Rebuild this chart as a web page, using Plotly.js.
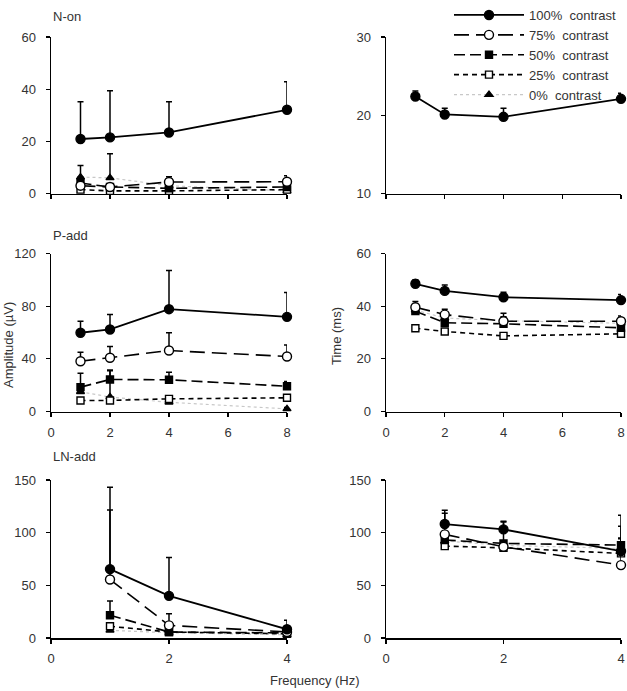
<!DOCTYPE html>
<html>
<head>
<meta charset="utf-8">
<script src="https://cdn.plot.ly/plotly-3.0.1.min.js"></script>
<style>html,body{margin:0;padding:0;background:#fff;}#chart{width:627px;height:691px;}</style>
</head>
<body>
<div id="chart"></div>
<script>
// ---------- DATA ----------
const freq8 = [1, 2, 4, 8];
const freq4 = [1, 2, 4];
const seriesNames = ['100%  contrast', '75%  contrast', '50%  contrast', '25%  contrast', '0%  contrast'];
const panelLabels = ['N-on', 'P-add', 'LN-add'];

// N-on amplitude (µV)
const nOnAmp    = [[20.9, 21.5, 23.4, 32.1], [3.0, 2.5, 4.4, 4.5], [4.0, 2.5, 2.0, 2.5], [1.5, 1.0, 1.0, 1.5], [6.3, 6.0, 3.0, 1.0]];
const nOnAmpErr = [[14.3, 17.9, 11.8, 10.7], [1.5, 1.0, 2.0, 2.3], [1.0, 0.8, 1.0, 1.0], [0.5, 0.5, 0.5, 0.5], [4.4, 9.2, 1.0, 0.5]];
// N-on time (ms)
const nOnTime    = [[22.4, 20.1, 19.8, 22.1]];
const nOnTimeErr = [[0.7, 0.8, 1.1, 0.7]];
// P-add amplitude (µV)
const pAddAmp    = [[59.8, 62.3, 77.7, 71.9], [38.2, 40.8, 46.3, 41.8], [18.5, 24.3, 24.1, 19.2], [8.4, 8.4, 9.6, 10.4], [15.0, 11.0, 7.0, 2.0]];
const pAddAmpErr = [[8.8, 11.4, 29.4, 18.5], [6.8, 8.6, 13.5, 8.8], [10.6, 7.3, 5.8, 3.6], [1.0, 1.0, 2.0, 1.0], [5.0, 20.0, 4.0, 1.0]];
// P-add time (ms)
const pAddTime    = [[48.5, 45.8, 43.4, 42.3], [39.6, 36.8, 34.3, 34.3], [38.1, 33.7, 33.3, 31.8], [31.6, 30.4, 28.7, 29.5], [38.5, 35.5, 34.5, 33.5]];
const pAddTimeErr = [[1.5, 2.2, 1.9, 2.1], [2.2, 2.0, 3.0, 2.0], [1.5, 1.5, 2.5, 1.5], [0.8, 0.8, 0.8, 0.8], [1.5, 1.5, 1.5, 1.5]];
// LN-add amplitude (µV)
const lnAddAmp    = [[65.4, 40.0, 8.3], [55.5, 12.0, 5.7], [21.6, 5.7, 4.8], [11.1, 5.7, 4.0], [7.3, 5.0, 3.0]];
const lnAddAmpErr = [[77.6, 36.5, 8.5], [66.0, 11.0, 4.0], [13.6, 2.0, 2.0], [2.0, 1.0, 1.0], [1.0, 1.0, 1.0]];
// LN-add time (ms)
const lnAddTime    = [[108.2, 103.1, 82.5], [98.4, 86.6, 69.2], [93.0, 89.8, 88.2], [87.2, 85.6, 80.3], [92.0, 88.0, 85.0]];
const lnAddTimeErr = [[13.0, 7.0, 34.0], [20.0, 3.0, 25.0], [8.0, 21.0, 18.0], [5.0, 3.0, 5.0], [6.0, 3.0, 10.0]];

// ---------- STYLES ----------
const styles = [
  {dash: 'solid',      lineColor: '#000', width: 1.8, symbol: 'circle',   size: 9, fill: '#000'},
  {dash: '15px,7px',   lineColor: '#000', width: 1.6, symbol: 'circle',   size: 9, fill: '#fff'},
  {dash: '11px,5px',   lineColor: '#000', width: 1.6, symbol: 'square',   size: 7, fill: '#000'},
  {dash: '5px,4px',    lineColor: '#000', width: 1.6, symbol: 'square',   size: 7, fill: '#fff'},
  {dash: 'dot',        lineColor: '#c8c8c8', width: 1.2, symbol: 'triangle-up', size: 7, fill: '#000'}
];

const panels = [
  {xa: 'x',  ya: 'y',  x: freq8, vals: nOnAmp,   errs: nOnAmpErr,   legend: true},
  {xa: 'x2', ya: 'y2', x: freq8, vals: nOnTime,  errs: nOnTimeErr,  legend: false},
  {xa: 'x3', ya: 'y3', x: freq8, vals: pAddAmp,  errs: pAddAmpErr,  legend: false},
  {xa: 'x4', ya: 'y4', x: freq8, vals: pAddTime, errs: pAddTimeErr, legend: false},
  {xa: 'x5', ya: 'y5', x: freq4, vals: lnAddAmp, errs: lnAddAmpErr, legend: false},
  {xa: 'x6', ya: 'y6', x: freq4, vals: lnAddTime,errs: lnAddTimeErr,legend: false}
];

const traces = [];
panels.forEach(p => {
  // draw lower-contrast series first so the 100% series is on top
  for (let i = p.vals.length - 1; i >= 0; i--) {
    const s = styles[i];
    traces.push({
      x: p.x, y: p.vals[i], xaxis: p.xa, yaxis: p.ya,
      type: 'scatter', mode: 'lines+markers', cliponaxis: false,
      name: seriesNames[i], legendgroup: 'g' + i, showlegend: p.legend, legendrank: i + 1,
      line: {color: s.lineColor, dash: s.dash, width: s.width},
      marker: {symbol: s.symbol, size: s.size, color: s.fill, line: {color: '#000', width: 1.4}},
      error_y: {type: 'data', symmetric: false, array: p.errs[i], arrayminus: p.errs[i].map(() => 0),
                color: '#000', thickness: 1.5, width: 3}
    });
  }
});

const font = {family: 'Arial, "Liberation Sans", sans-serif', size: 13, color: '#333'};
const W = 627, H = 691;
const xL = [51 / W, 287 / W], xR = [386 / W, 621 / W];
const yT = [(H - 193.5) / H, (H - 37) / H];
const yM = [(H - 411.5) / H, (H - 253.5) / H];
const yB = [(H - 638) / H, (H - 480) / H];

function ax(domain, range, dtick, anchor, labels, standoff) {
  return {domain, range, dtick, tick0: 0, anchor, showticklabels: labels,
    ticks: 'outside', ticklen: 4, tickwidth: 1.2, tickcolor: '#000', ticklabelstandoff: standoff,
    showline: true, linecolor: '#000', linewidth: 1.5, showgrid: false, zeroline: false,
    tickfont: font, fixedrange: true};
}

const layout = {
  width: W, height: H, margin: {l: 0, r: 0, t: 0, b: 0},
  paper_bgcolor: '#fff', plot_bgcolor: 'rgba(0,0,0,0)', font: font,
  showlegend: true,
  legend: {x: 449 / W, y: 1.0, xanchor: 'left', yanchor: 'top', font: {family: font.family, size: 13, color: '#333'},
           itemwidth: 70, bgcolor: 'rgba(0,0,0,0)', traceorder: 'normal', tracegroupgap: 0},
  xaxis:  ax(xL, [0, 8], 2, 'y', false, 4),
  yaxis:  ax(yT, [0, 60], 20, 'x', true, 7),
  xaxis2: ax(xR, [0, 8], 2, 'y2', false, 4),
  yaxis2: ax(yT, [10, 30], 10, 'x2', true, 7),
  xaxis3: ax(xL, [0, 8], 2, 'y3', true, 4),
  yaxis3: ax(yM, [0, 120], 40, 'x3', true, 7),
  xaxis4: ax(xR, [0, 8], 2, 'y4', true, 4),
  yaxis4: ax(yM, [0, 60], 20, 'x4', true, 7),
  xaxis5: ax(xL, [0, 4], 2, 'y5', true, 4),
  yaxis5: ax(yB, [0, 150], 50, 'x5', true, 7),
  xaxis6: ax(xR, [0, 4], 2, 'y6', true, 4),
  yaxis6: ax(yB, [0, 150], 50, 'x6', true, 7),
  annotations: [
    {text: panelLabels[0], xref: 'paper', yref: 'paper', x: 51 / W, y: (H - 17) / H, xanchor: 'left', yanchor: 'middle', showarrow: false, font: font},
    {text: panelLabels[1], xref: 'paper', yref: 'paper', x: 51 / W, y: (H - 235) / H, xanchor: 'left', yanchor: 'middle', showarrow: false, font: font},
    {text: panelLabels[2], xref: 'paper', yref: 'paper', x: 51 / W, y: (H - 456) / H, xanchor: 'left', yanchor: 'middle', showarrow: false, font: font},
    {text: 'Amplitude (µV)', xref: 'paper', yref: 'paper', x: 8 / W, y: (H - 345) / H, xanchor: 'center', yanchor: 'middle', textangle: -90, showarrow: false, font: font},
    {text: 'Time (ms)', xref: 'paper', yref: 'paper', x: 336 / W, y: (H - 336) / H, xanchor: 'center', yanchor: 'middle', textangle: -90, showarrow: false, font: font},
    {text: 'Frequency (Hz)', xref: 'paper', yref: 'paper', x: 315 / W, y: 0.001, xanchor: 'center', yanchor: 'bottom', showarrow: false, font: font}
  ]
};

Plotly.newPlot('chart', traces, layout, {staticPlot: true});
</script>
</body>
</html>
